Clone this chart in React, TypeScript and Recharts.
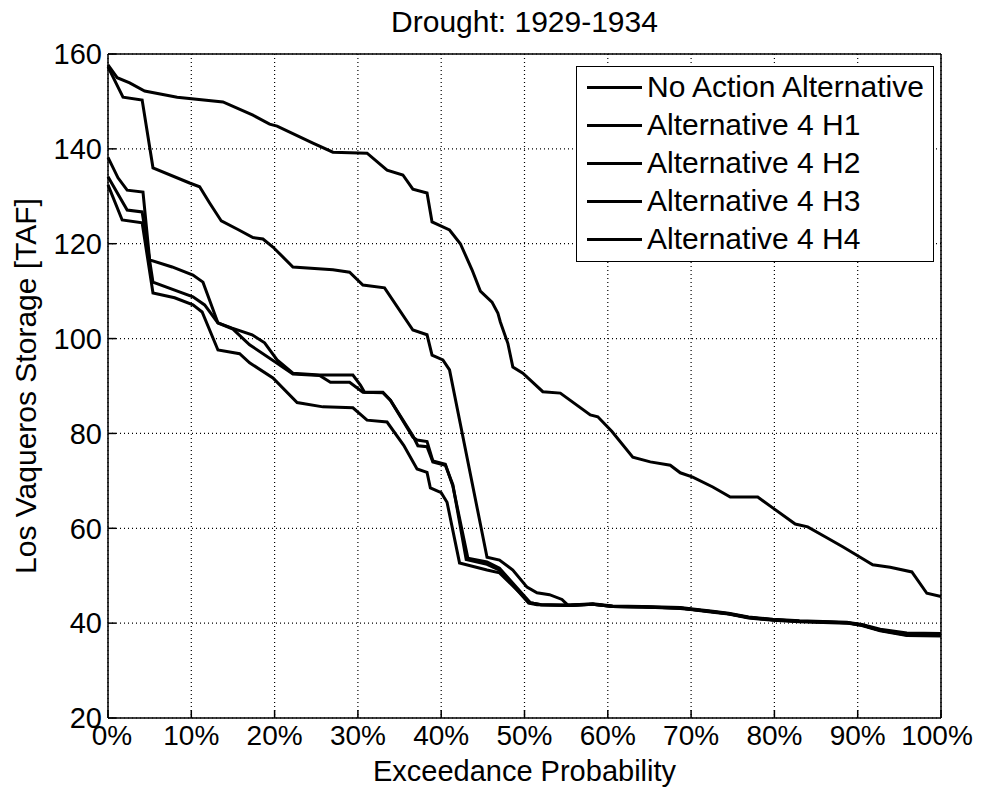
import React from 'react';
import { LineChart, Line, XAxis, YAxis, CartesianGrid } from 'recharts';

type Pt = [number, number];

// [exceedance %, storage TAF]
const noAction: Pt[] = [
  [0, 157.7], [1.1, 155], [2.6, 153.9], [4.4, 152.2], [8.3, 150.9], [13.8, 149.9], [17.4, 147.1],
  [19.4, 145.2], [20.3, 144.8], [24.6, 141.2], [27, 139.3], [31.1, 139.1], [33.5, 135.5], [35.4, 134.5],
  [36.6, 131.5], [38.3, 130.7], [38.9, 124.6], [41, 122.9], [42.3, 120], [43.7, 114.5], [44.7, 110],
  [46.1, 107.7], [46.8, 105.4], [47.1, 103.5], [48, 99], [48.6, 94], [49.8, 92.7], [52.2, 88.8],
  [54.3, 88.5], [57.9, 83.9], [58.8, 83.5], [60.5, 80.4], [63, 75], [65.1, 74], [67.5, 73.3],
  [68.7, 71.7], [70.2, 70.8], [72.6, 68.7], [74.7, 66.6], [78, 66.6], [79.8, 64.3], [82.5, 60.9],
  [84, 60.3], [86.3, 58], [88.2, 56.1], [90.3, 53.9], [91.8, 52.3], [93.9, 51.8], [96.5, 50.8],
  [98.3, 46.3], [100, 45.6],
];

const altH1: Pt[] = [
  [0, 157.3], [1.8, 150.9], [4.1, 150.3], [5.4, 136], [9.8, 132.8], [11, 132], [12.2, 128.6],
  [13.6, 124.8], [15.6, 123], [17.4, 121.3], [18.6, 121], [19.8, 119.3], [22.2, 115.1], [27, 114.5],
  [29, 114], [30.6, 111.3], [33.2, 110.7], [36.6, 101.8], [38.3, 100.8], [38.9, 96.5], [40.2, 95.5],
  [41, 93.4], [45.5, 53.9], [47, 53.3], [48.6, 51.2], [50.3, 47.6], [51.5, 46.4], [53, 46],
  [54.5, 45], [55.2, 43.8], [58.2, 44], [60.6, 43.5], [64.2, 43.4], [68.7, 43.2], [70.2, 42.9],
  [72.6, 42.4], [74.5, 42], [76.9, 41.2], [79.8, 40.7], [83, 40.4], [88.7, 40.1], [90.5, 39.6],
  [92.7, 38.5], [95.9, 37.6], [100, 37.5],
];

const altH2: Pt[] = [
  [0, 138.2], [1.2, 133.9], [2.3, 131.3], [4.2, 130.9], [5, 116.6], [7.7, 115.1], [10.2, 113.4],
  [11.4, 111.9], [13.2, 103.3], [14.9, 102.2], [17.3, 100.8], [18.8, 99.1], [20.3, 95.5], [22.2, 92.7],
  [25.4, 92.3], [29.4, 92.3], [30.3, 90.2], [30.8, 88.7], [33, 88.7], [33.9, 87], [36.6, 79.2],
  [37.1, 78.6], [38.3, 78.3], [39, 74.2], [40.5, 73.5], [41.4, 68.9], [43.2, 53.7], [45.5, 52.9],
  [47, 51.6], [50.7, 44.3], [52, 43.9], [55.5, 43.8], [58.2, 44.1], [60.6, 43.6], [64.2, 43.5],
  [68.7, 43.3], [70.2, 43], [72.6, 42.5], [74.5, 42.1], [76.9, 41.3], [79.8, 40.8], [83, 40.5],
  [88.7, 40.2], [90.5, 39.7], [92.7, 38.7], [95.9, 37.9], [100, 37.8],
];

const altH3: Pt[] = [
  [0, 134.1], [2.3, 127.1], [4.1, 126.7], [5.4, 111.9], [8, 110.2], [10.2, 108.8], [11.6, 107.1],
  [13.2, 103.3], [15, 102], [17, 98.7], [20.3, 94.8], [22.2, 92.5], [25.4, 92.2], [26.7, 90.8],
  [29, 90.8], [30.6, 88.7], [33, 88.6], [33.9, 87], [36.6, 79.5], [37.2, 77.4], [38.3, 77.2],
  [39, 74], [40.5, 73.3], [41.4, 69.2], [43, 53.4], [45.5, 52.4], [47, 51.2], [50.5, 44.2],
  [51.5, 43.9], [55.5, 43.7], [58.2, 44], [60.6, 43.5], [64.2, 43.4], [68.7, 43.2], [70.2, 42.9],
  [72.6, 42.4], [74.5, 42], [76.9, 41.2], [79.8, 40.7], [83, 40.4], [88.7, 40.1], [90.5, 39.6],
  [92.7, 38.5], [95.9, 37.5], [100, 37.4],
];

const altH4: Pt[] = [
  [0, 132.4], [1.7, 125], [4.1, 124.4], [5.4, 109.6], [8, 108.6], [10.2, 107.1], [11.3, 105.6],
  [13.2, 97.6], [15.8, 96.8], [17, 94.9], [19.8, 91.7], [22.7, 86.5], [25.8, 85.6], [29.4, 85.4],
  [31.1, 82.8], [33.5, 82.4], [35.5, 77.5], [37.1, 72.5], [38.3, 71.8], [38.7, 68.5], [40, 67.5],
  [40.7, 65.5], [42.2, 52.7], [45.5, 51.2], [47, 50.6], [50.7, 44.3], [52, 43.9], [55.5, 43.7],
  [58.2, 44], [60.6, 43.5], [64.2, 43.4], [68.7, 43.1], [70.2, 42.8], [72.6, 42.3], [74.5, 41.9],
  [76.9, 41.1], [79.8, 40.6], [83, 40.3], [88.7, 40], [90.5, 39.5], [92.7, 38.4], [95.9, 37.4],
  [100, 37.3],
];

const seriesNames = [
  'No Action Alternative',
  'Alternative 4 H1',
  'Alternative 4 H2',
  'Alternative 4 H3',
  'Alternative 4 H4',
];
const seriesPoints = [noAction, altH1, altH2, altH3, altH4];

const xTicks = [0, 10, 20, 30, 40, 50, 60, 70, 80, 90, 100];
const yTicks = [20, 40, 60, 80, 100, 120, 140, 160];

const font = '"Liberation Sans", Arial, sans-serif';

const toRows = (pts: Pt[]) => pts.map(([p, v]) => ({ p, v }));

// end labels sit a little inward, like the original
const PercentTick = (props: any) => {
  const { x, y, payload } = props;
  const v = payload.value as number;
  const dx = v === 100 ? -4 : v === 0 ? 4 : 0;
  return (
    <text x={x + dx} y={y} dy="0.71em" textAnchor="middle" fill="#000" fontSize={28}>
      {`${v}%`}
    </text>
  );
};

const App: React.FC = () => (
  // cancel the body margin so the chart uses the whole 981x793 page
  <div style={{ position: 'relative', width: 981, height: 793, margin: '-8px 0 0 -8px', fontFamily: font }}>
    <LineChart
      width={981}
      height={793}
      margin={{ top: 44, right: 30, bottom: 0, left: 0 }}
      style={{ fontFamily: font }}
    >
      <CartesianGrid stroke="#000" strokeDasharray="1 3" strokeWidth={1.2} />
      <XAxis
        type="number"
        dataKey="p"
        domain={[0, 100]}
        ticks={xTicks}
        interval={0}
        height={75}
        tickSize={-8}
        tickMargin={15}
        stroke="#000"
        strokeWidth={1.5}
        tick={PercentTick}
        label={{ value: 'Exceedance Probability', position: 'insideBottom', offset: 12, fill: '#000', fontSize: 29 }}
      />
      <XAxis
        xAxisId="top"
        orientation="top"
        type="number"
        domain={[0, 100]}
        ticks={xTicks}
        interval={0}
        height={10}
        tick={false}
        tickSize={-8}
        stroke="#000"
        strokeWidth={1.5}
        label={{ value: 'Drought: 1929-1934', position: 'top', offset: 12, fill: '#000', fontSize: 30 }}
      />
      <YAxis
        type="number"
        domain={[20, 160]}
        ticks={yTicks}
        interval={0}
        width={108}
        tickSize={-8}
        tickMargin={14}
        stroke="#000"
        strokeWidth={1.5}
        tick={{ fill: '#000', fontSize: 29 }}
        label={{
          value: 'Los Vaqueros Storage [TAF]',
          angle: -90,
          position: 'insideLeft',
          offset: 25,
          fill: '#000',
          fontSize: 30,
          style: { textAnchor: 'middle' },
        }}
      />
      <YAxis
        yAxisId="right"
        orientation="right"
        type="number"
        domain={[20, 160]}
        ticks={yTicks}
        interval={0}
        width={10}
        tick={false}
        tickSize={-8}
        stroke="#000"
        strokeWidth={1.5}
      />
      {seriesPoints.map((pts, i) => (
        <Line
          key={seriesNames[i]}
          data={toRows(pts)}
          dataKey="v"
          name={seriesNames[i]}
          type="linear"
          stroke="#000"
          strokeWidth={3}
          dot={false}
          activeDot={false}
          isAnimationActive={false}
        />
      ))}
    </LineChart>
    <div
      style={{
        position: 'absolute',
        left: 576,
        top: 66,
        width: 358,
        height: 196,
        boxSizing: 'border-box',
        border: '1.5px solid #000',
        background: '#fff',
        padding: '1px 0 0 10px',
        fontSize: 30,
        color: '#000',
      }}
    >
      {seriesNames.map((n) => (
        <div key={n} style={{ display: 'flex', alignItems: 'center', height: 38, whiteSpace: 'nowrap' }}>
          <span style={{ display: 'inline-block', width: 55, height: 3, background: '#000', marginRight: 5 }} />
          {n}
        </div>
      ))}
    </div>
  </div>
);

export default App;
